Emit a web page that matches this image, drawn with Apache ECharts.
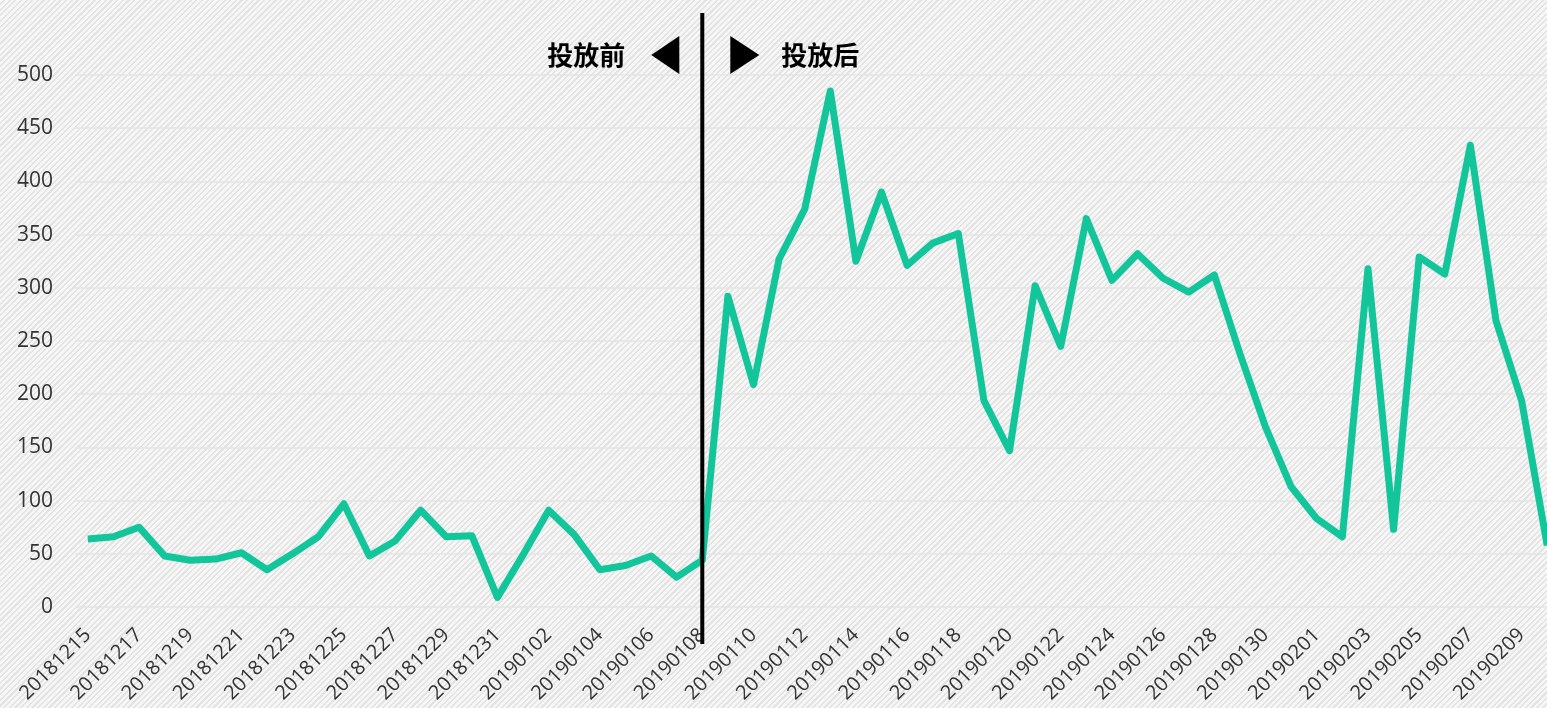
<!DOCTYPE html>
<html>
<head>
<meta charset="utf-8">
<script src="https://cdn.jsdelivr.net/npm/echarts@6/dist/echarts.min.js"></script>
<style>
  html, body { margin: 0; padding: 0; overflow: hidden; }
  #chart {
    width: 1560px;
    height: 708px;
    background: repeating-linear-gradient(135deg, #f6f6f6 0px, #f6f6f6 2.4px, #e3e3e3 2.4px, #e3e3e3 4px);
  }
</style>
</head>
<body>
<div id="chart"></div>
<script>
// 日期
const dates = [
  '20181215', '20181216', '20181217', '20181218', '20181219', '20181220', '20181221', '20181222',
  '20181223', '20181224', '20181225', '20181226', '20181227', '20181228', '20181229', '20181230',
  '20181231', '20190101', '20190102', '20190103', '20190104', '20190105', '20190106', '20190107',
  '20190108', '20190109', '20190110', '20190111', '20190112', '20190113', '20190114', '20190115',
  '20190116', '20190117', '20190118', '20190119', '20190120', '20190121', '20190122', '20190123',
  '20190124', '20190125', '20190126', '20190127', '20190128', '20190129', '20190130', '20190131',
  '20190201', '20190202', '20190203', '20190204', '20190205', '20190206', '20190207', '20190208',
  '20190209', '20190210'
];

const values = [
  64, 66, 75, 48, 44, 45, 51, 35, 50, 66, 97, 48, 62, 91, 66, 67,
  9, 49, 91, 68, 35, 39, 48, 28, 44, 292, 209, 327, 374, 485, 325, 390,
  321, 342, 351, 194, 147, 302, 245, 365, 307, 332, 309, 296, 312, 238, 169, 113,
  83, 66, 318, 73, 329, 313, 434, 269, 194, 58
];

// 投放日期
const splitDate = '20190108';
const beforeLabel = '投放前';
const afterLabel = '投放后';

const chart = echarts.init(document.getElementById('chart'));
const labelFont = '"Open Sans", "Noto Sans", sans-serif';

const option = {
  backgroundColor: 'transparent',
  animation: false,
  grid: {
    left: 75,
    right: 0,
    top: 75,
    bottom: 101
  },
  xAxis: {
    type: 'category',
    data: dates,
    boundaryGap: true,
    axisLine: { show: false },
    axisTick: { show: false },
    axisLabel: {
      interval: 1,
      rotate: 45,
      margin: 25,
      color: '#333',
      fontSize: 20,
      fontFamily: labelFont
    }
  },
  yAxis: {
    type: 'value',
    min: 0,
    max: 500,
    interval: 50,
    axisLine: { show: false },
    axisTick: { show: false },
    axisLabel: {
      margin: 22,
      color: '#333',
      fontSize: 21,
      fontFamily: labelFont
    },
    splitLine: {
      lineStyle: { color: '#e4e4e4', width: 1.5 }
    }
  },
  series: [
    {
      type: 'line',
      data: values,
      symbol: 'none',
      lineStyle: { color: '#12c59b', width: 7, join: 'round' },
      z: 2
    }
  ]
};
chart.setOption(option);

// 投放分割线 + 标注
const lx = chart.convertToPixel({ xAxisIndex: 0 }, splitDate);
const cy = 55;
chart.setOption({
  graphic: [
    {
      type: 'line',
      shape: { x1: lx, y1: 13, x2: lx, y2: 644 },
      style: { stroke: '#000', lineWidth: 4 },
      z: 10
    },
    {
      type: 'text',
      x: lx - 77,
      y: cy,
      style: {
        text: beforeLabel,
        align: 'right',
        verticalAlign: 'middle',
        fill: '#000',
        font: 'bold 26px "Noto Sans CJK SC"'
      },
      z: 10
    },
    {
      type: 'polygon',
      shape: { points: [[lx - 51, cy], [lx - 23, cy - 19], [lx - 23, cy + 19]] },
      style: { fill: '#000' },
      z: 10
    },
    {
      type: 'polygon',
      shape: { points: [[lx + 57, cy], [lx + 28, cy - 19], [lx + 28, cy + 19]] },
      style: { fill: '#000' },
      z: 10
    },
    {
      type: 'text',
      x: lx + 79,
      y: cy,
      style: {
        text: afterLabel,
        align: 'left',
        verticalAlign: 'middle',
        fill: '#000',
        font: 'bold 26px "Noto Sans CJK SC"'
      },
      z: 10
    }
  ]
});

window.addEventListener('resize', () => chart.resize());
</script>
</body>
</html>
